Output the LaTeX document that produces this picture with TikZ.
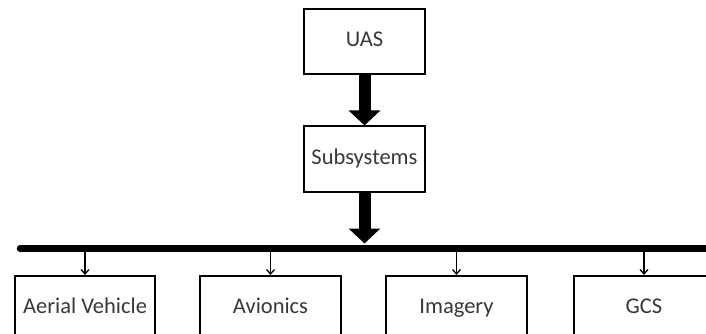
\documentclass[tikz,border=0pt]{standalone}
\usepackage{fontspec}
\setmainfont{Carlito}
\usetikzlibrary{arrows.meta}
\tikzset{
  box/.style={draw,line width=1.6pt,minimum height=65.5pt,text height=14pt,text depth=4pt,text=black!78,font=\fontsize{22.5}{26}\selectfont},
  bigarrow/.style={line width=12pt,-{Triangle[width=31pt,length=15pt]}},
  smallarrow/.style={line width=1.3pt,-{Straight Barb[width=8pt,length=4.5pt]}},
}
\begin{document}
\begin{tikzpicture}[x=1pt,y=-1pt]
  \useasboundingbox (0,0) rectangle (706,334);
  \clip (0,0) rectangle (706,334);
  \node[box,minimum width=121.5pt] (uas) at (364.5,41.5) {UAS};
  \node[box,minimum width=121.5pt] (sub) at (364.5,159) {Subsystems};
  \path (20,248.5) coordinate (busL) (712,248.5) coordinate (busR);
  \node[box,minimum width=140.5pt] (av) at (85,308.5) {Aerial Vehicle};
  \node[box,minimum width=140.5pt] (avi) at (270.5,308.5) {Avionics};
  \node[box,minimum width=140.5pt] (img) at (456.5,308.5) {Imagery};
  \node[box,minimum width=140.5pt] (gcs) at (644,308.5) {GCS};
  \draw[bigarrow] (uas.south)--(sub.north);
  \draw[bigarrow,shorten >=5pt] (sub.south)--(sub.south |- busL);
  \foreach \B in {av,avi,img,gcs} \draw[smallarrow] (\B.north |- busL)--(\B.north);
  \draw[line width=6.5pt,line cap=round] (busL)--(busR);
\end{tikzpicture}
\end{document}
